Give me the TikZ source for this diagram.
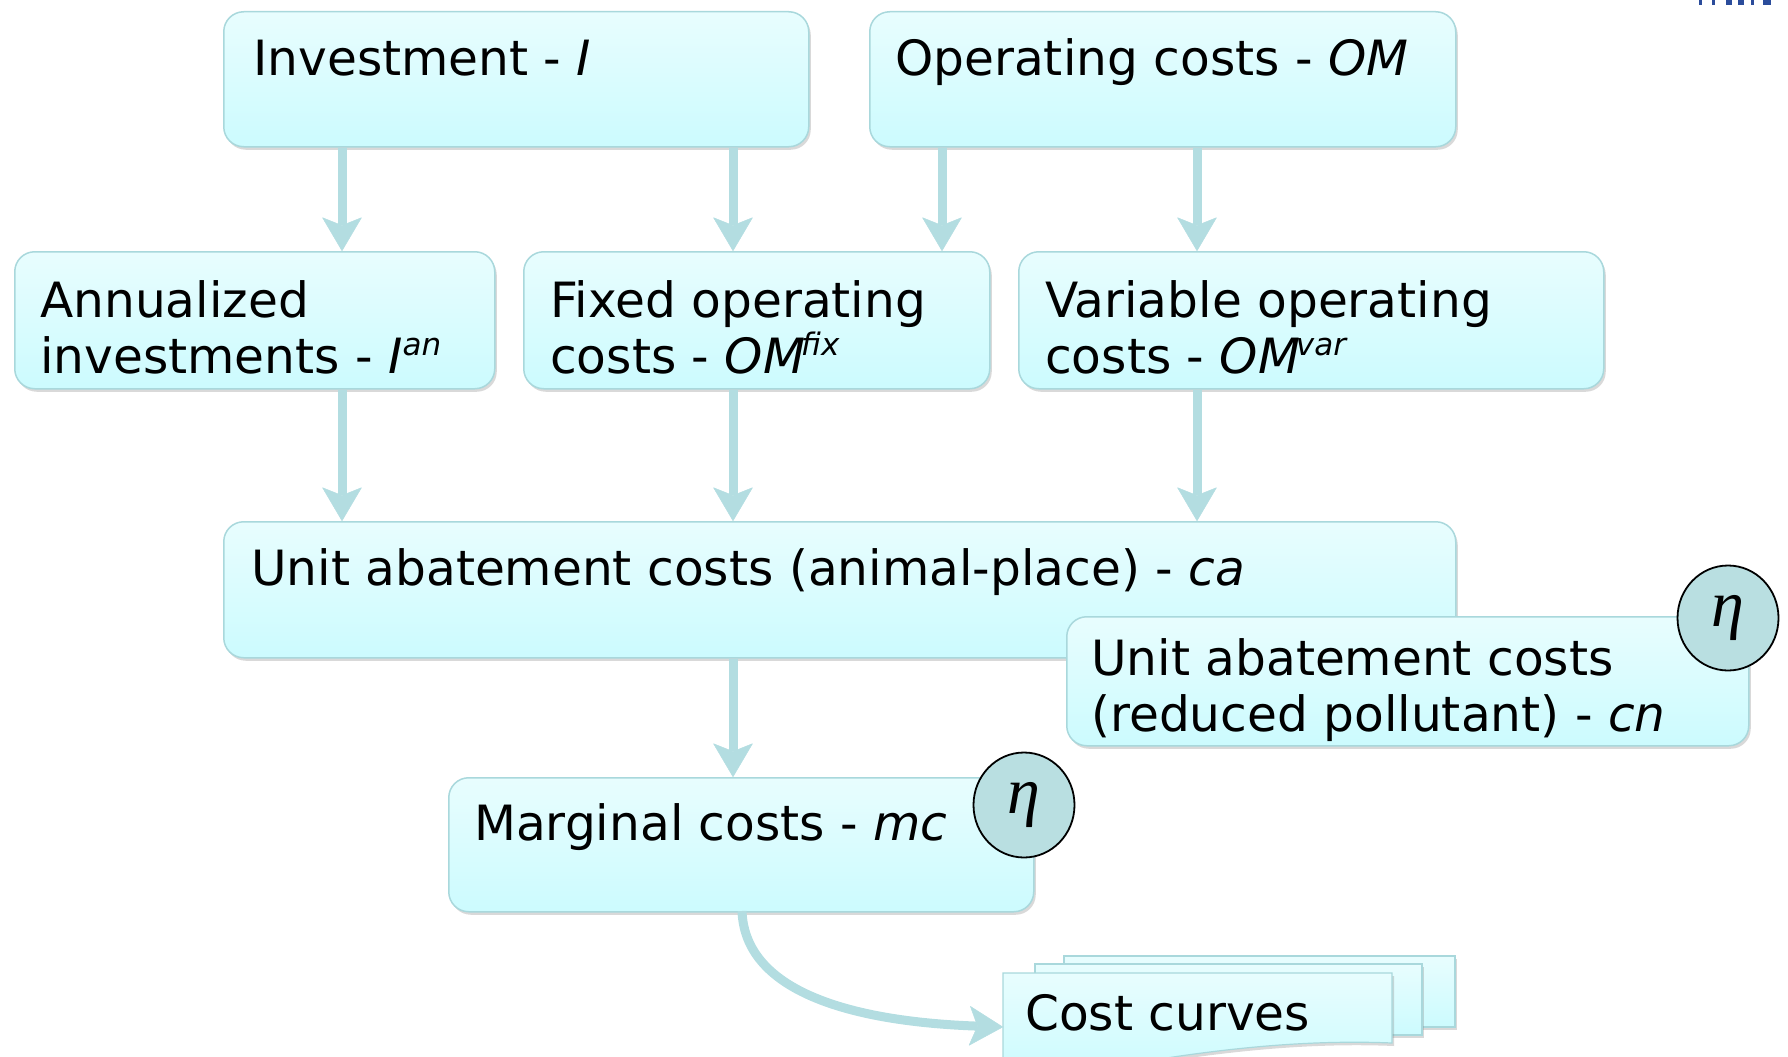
\documentclass[tikz,border=0pt]{standalone}
\usepackage{fontspec}
\setmainfont{DejaVu Sans}[ItalicFont={DejaVu Sans Oblique}]
\newfontfamily\etafont{Liberation Serif}
\usetikzlibrary{shadows,arrows.meta,shapes.geometric}
\definecolor{boxtop}{HTML}{E8FDFE}
\definecolor{boxbot}{HTML}{CCFBFE}
\definecolor{boxline}{HTML}{A9D8DC}
\definecolor{arrowc}{HTML}{B3DDE1}
\definecolor{etafill}{HTML}{B9DFE1}
\definecolor{logoblue}{HTML}{2B4C9B}
\newcommand{\sups}[1]{\raisebox{0.36em}{\fontsize{31}{31}\selectfont\itshape #1}}
\begin{document}
\begin{tikzpicture}[x=1pt,y=-1pt,
  box/.style={draw=boxline, line width=1.5pt, rounded corners=20pt,
    top color=boxtop, bottom color=boxbot, anchor=north west, inner sep=0pt,
    drop shadow={opacity=0.3, shadow xshift=2pt, shadow yshift=-3pt}},
  sheet/.style={draw=boxline, line width=1.2pt, top color=boxtop, bottom color=boxbot,
    drop shadow={opacity=0.3, shadow xshift=2pt, shadow yshift=-3pt}},
  txt/.style={anchor=base west, inner sep=0pt, font=\fontsize{48.6}{57}\selectfont},
  arr/.style={draw=arrowc, line width=9pt,
    -{Stealth[length=34pt, width=40pt, inset=8pt, round, line width=0.5pt]}},
  etanode/.style={ellipse, draw=black, line width=1.8pt, fill=etafill,
    minimum width=101pt, minimum height=105pt, inner sep=0pt,
    font=\etafont\itshape\fontsize{66}{66}\selectfont}
]
\useasboundingbox (0,0) rectangle (1788,1057);

% boxes
\node[box, minimum width=585pt, minimum height=135pt] (inv) at (223,11) {};
\node[box, minimum width=586pt, minimum height=135pt] (om) at (869,11) {};
\node[box, minimum width=480pt, minimum height=137pt] (ann) at (14,251) {};
\node[box, minimum width=466pt, minimum height=137pt] (fix) at (523,251) {};
\node[box, minimum width=585pt, minimum height=137pt] (var) at (1018,251) {};
\node[box, minimum width=1232pt, minimum height=136pt] (ca) at (223,521) {};
\node[box, minimum width=682pt, minimum height=129pt] (cn) at (1066,616) {};
\node[box, minimum width=585pt, minimum height=134pt] (mc) at (448,777) {};

% texts
\node[txt] (tinv) at (253,76) {Investment - \textit{I}};
\node[txt] (tom) at (895,76) {Operating costs - \textit{OM}};
\node[txt] (tann1) at (40,317) {Annualized};
\node[txt] (tann2) at (40,373) {investments - \textit{I}\sups{an}};
\node[txt] (tfix1) at (550,317) {Fixed operating};
\node[txt] (tfix2) at (550,373) {costs - \textit{OM}\kern-4pt\sups{fix}};
\node[txt] (tvar1) at (1045,317) {Variable operating};
\node[txt] (tvar2) at (1045,373) {costs - \textit{OM}\kern-4pt\sups{var}};
\node[txt] (tca) at (251,585) {Unit abatement costs (animal-place) - \textit{ca}};
\node[txt] (tcn1) at (1091,675) {Unit abatement costs};
\node[txt] (tcn2) at (1091,731) {(reduced pollutant) - \textit{cn}};
\node[txt] (tmc) at (474,840) {Marginal costs - \textit{mc}};

% arrow columns
\coordinate (c1) at (342,0);
\coordinate (c2) at (733,0);
\coordinate (c3) at (942,0);
\coordinate (c4) at (1197,0);
\draw[arr] (inv.south -| c1) -- (ann.north -| c1);
\draw[arr] (inv.south -| c2) -- (fix.north -| c2);
\draw[arr] (om.south -| c3) -- (fix.north -| c3);
\draw[arr] (om.south -| c4) -- (var.north -| c4);
\draw[arr] (ann.south -| c1) -- (ca.north -| c1);
\draw[arr] (fix.south -| c2) -- (ca.north -| c2);
\draw[arr] (var.south -| c4) -- (ca.north -| c4);
\draw[arr] (ca.south -| c2) -- (mc.north -| c2);

% cost curves stack
\begin{scope}
\clip (0,0) rectangle (1788,1057);
\path[sheet] (1064,956) rectangle (1455,1027);
\path[sheet] (1035,964) rectangle (1422,1035);
\path[sheet] (1003,973) -- (1392,973) -- (1392,1043)
  .. controls (1320,1040) and (1250,1046) .. (1180,1056)
  .. controls (1100,1068) and (1050,1075) .. (1003,1075) -- cycle;
\end{scope}
\coordinate (ccw) at (1003,1027);
\node[txt] (tcc) at (1025,1030) {Cost curves};
\coordinate (mcs) at (742,911);
\draw[arr] (mcs) .. controls (745,995) and (860,1022) .. (ccw);

% eta circles
\node[etanode] (eta1) at (1728,618) {η};
\node[etanode] (eta2) at (1024,805) {η};

% cropped logo fragment
\foreach \a/\b in {1699/1702,1712/1715,1726/1732,1738/1744,1751/1754,1763/1771}
  \fill[logoblue] (\a,0) rectangle (\b,5);
\end{tikzpicture}
\end{document}
